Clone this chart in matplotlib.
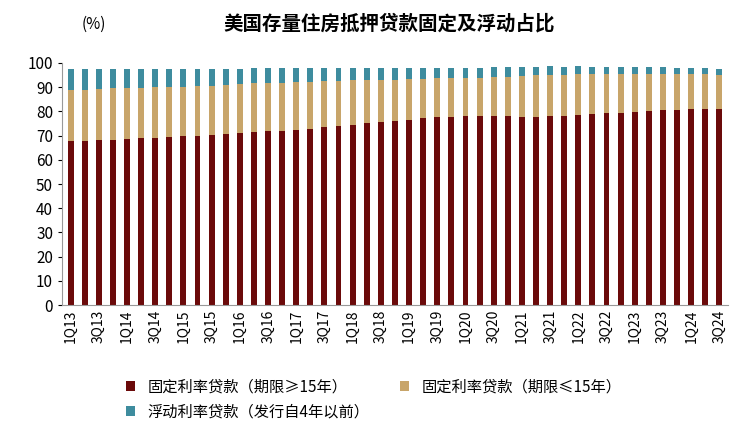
import numpy as np
import matplotlib.pyplot as plt

plt.rcParams['font.family'] = ['Noto Sans CJK SC', 'DejaVu Sans']

years = list(range(13, 25))
quarters = [f"{q}Q{y}" for y in years for q in (1, 2, 3, 4)][:47]

fixed_long_top = [67.7, 67.7, 68.1, 68.1, 68.5, 68.9, 68.9, 69.3, 69.8, 69.8, 70.2, 70.6,
                  71.0, 71.4, 71.8, 71.8, 72.2, 72.6, 73.5, 73.9, 74.3, 75.1, 75.5, 75.9,
                  76.3, 77.2, 77.6, 77.6, 78.0, 78.0, 78.0, 78.0, 77.6, 77.6, 78.0, 78.0,
                  78.4, 78.8, 79.2, 79.2, 79.6, 80.0, 80.4, 80.4, 80.9, 80.9, 80.9]
fixed_short_top = [89.0, 89.0, 89.3, 89.7, 89.7, 89.7, 90.1, 90.1, 90.1, 90.5, 90.5, 90.9,
                   91.3, 91.7, 91.7, 91.7, 92.2, 92.2, 92.6, 92.6, 92.8, 93.1, 93.1, 93.1,
                   93.4, 93.4, 93.7, 93.7, 93.9, 93.9, 94.2, 94.3, 94.8, 95.0, 95.0, 95.0,
                   95.3, 95.3, 95.4, 95.4, 95.4, 95.4, 95.4, 95.4, 95.4, 95.4, 95.0]
float_top = [97.5, 97.5, 97.5, 97.5, 97.5, 97.5, 97.5, 97.5, 97.5, 97.5, 97.5, 97.5,
             97.5, 97.8, 97.8, 97.8, 97.8, 97.8, 97.8, 97.8, 97.8, 97.8, 97.8, 97.8,
             97.8, 97.8, 97.8, 97.8, 97.8, 97.8, 98.3, 98.3, 98.3, 98.3, 98.7, 98.3,
             98.7, 98.3, 98.3, 98.3, 98.3, 98.3, 98.3, 97.8, 97.8, 97.8, 97.3]

fixed_long = np.array(fixed_long_top)
fixed_short = np.array(fixed_short_top) - fixed_long
floating = np.array(float_top) - np.array(fixed_short_top)

fig = plt.figure(figsize=(7.48, 4.34), dpi=100)
ax = fig.add_axes([0.083, 0.297, 0.89, 0.558])
x = np.arange(len(quarters))
w = 0.42
b1 = ax.bar(x, fixed_long, w, color='#6B0A0A', label='固定利率贷款（期限≥15年）')
b2 = ax.bar(x, fixed_short, w, bottom=fixed_long, color='#C8A56A', label='固定利率贷款（期限≤15年）')
b3 = ax.bar(x, floating, w, bottom=fixed_long + fixed_short, color='#3E8C9E', label='浮动利率贷款（发行自4年以前）')

ax.set_ylim(0, 100)
ax.set_yticks(range(0, 101, 10))
ax.set_xlim(-0.6, len(quarters) - 0.4)
ax.set_xticks(x[::2])
ax.set_xticklabels(quarters[::2], rotation=90, fontsize=10)
ax.tick_params(axis='y', labelsize=11, length=3)
ax.tick_params(axis='x', length=0)
for s in ['top', 'right']:
    ax.spines[s].set_visible(False)
ax.spines['left'].set_color('#999999')
ax.spines['bottom'].set_color('#999999')

fig.text(0.52, 0.945, '美国存量住房抵押贷款固定及浮动占比', ha='center', va='center',
         fontsize=14, fontweight='bold')
fig.text(0.125, 0.945, '(%)', ha='center', va='center', fontsize=11)

# legend fills column-major, so reorder to get row-major layout
handles = [b1, b3, b2]
fig.legend(handles, [h.get_label() for h in handles], loc='lower left',
           bbox_to_anchor=(0.15, 0.0), ncol=2, frameon=False,
           fontsize=11, handlelength=0.6, handleheight=0.6, columnspacing=2.0)
fig.savefig('out.png', dpi=100)
